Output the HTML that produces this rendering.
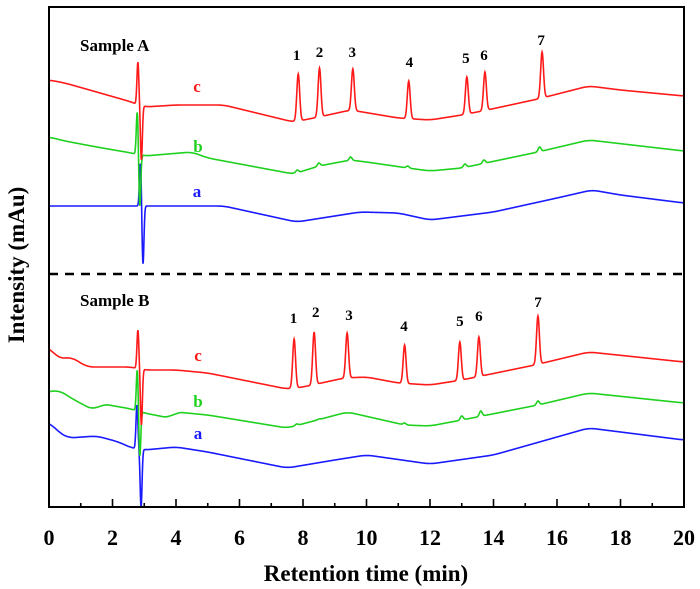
<!DOCTYPE html>
<html><head><meta charset="utf-8">
<style>
html,body{margin:0;padding:0;background:#fff;}
svg{display:block;font-family:"Liberation Serif",serif;}
</style></head>
<body>
<svg id="chart" width="700" height="589" viewBox="0 0 700 589">
<g id="traces"></g>
<line x1="49" y1="274" x2="684" y2="274" stroke="#000" stroke-width="2.5" stroke-dasharray="9,7"/>
<rect x="49" y="7" width="635" height="500" fill="none" stroke="#000" stroke-width="2"/>
<g id="xticks"></g>
<text x="366" y="581" text-anchor="middle" font-size="23" font-weight="bold">Retention time (min)</text>
<text transform="translate(24,265) rotate(-90)" text-anchor="middle" font-size="23" font-weight="bold">Intensity (mAu)</text>
<text x="80" y="51" font-size="17" font-weight="bold">Sample A</text>
<text x="80" y="306" font-size="17" font-weight="bold">Sample B</text>
<g id="labels"></g>
</svg>
<script>
// x-axis ticks
const xTickLabels = [0,2,4,6,8,10,12,14,16,18,20];
// Sample A traces (intensity units; baseline knots)
const aRedT = [0,0.5,1.5,2.6,3.0,4.0,5.5,7.7,8.5,9.5,11.0,12.0,13.0,13.8,15.4,17.0,18.0,20.0];
const aRedV = [427,424,415,405,400,402,402,385,390,397,389,387,392,397,408,421,417,411];
const aRedPkT = [2.8,2.91,7.85,8.52,9.57,11.33,13.16,13.73,15.53];
const aRedPkV = [445,347,433,439,438,426,430,435,455];
const aGrnT = [0,0.5,1.5,2.6,3.0,4.5,5.0,7.7,8.5,9.5,10.0,11.3,12.0,13.0,15.4,17.0,20.0];
const aGrnV = [370,366,360,354,351,355,349,333,341,347,345,339,336,339,355,367,356];
const aGrnPkT = [2.78,2.86,7.82,8.5,9.5,11.3,13.1,13.7,15.45];
const aGrnPkV = [396,300,337,344,350,341,343,347,360];
const aBluT = [0,2.8,3.2,5.5,7.8,9.8,11.0,12.0,14.0,16.0,17.1,18.0,20.0];
const aBluV = [301,301,301,301,285,295,294,287,295,309,317,312,304];
const aBluPkT = [2.88,2.96];
const aBluPkV = [345,242];
// Sample B traces
const bRedT = [0,0.3,0.7,1.2,2.6,3.0,4.0,5.0,7.5,8.0,9.3,10.0,11.0,12.0,13.0,15.3,17.0,20.0];
const bRedV = [160,148,150,140,140,137,137,134,118,120,129,130,124,122,127,142,155,145];
const bRedPkT = [2.8,2.91,7.72,8.35,9.39,11.2,12.94,13.54,15.4];
const bRedPkV = [177,82,168,175,174,162,165,170,191];
const bGrnT = [0,0.3,0.8,1.4,1.7,2.6,3.0,3.8,4.0,5.0,7.5,9.4,11.2,12.0,13.0,15.4,17.0,20.0];
const bGrnV = [115,117,107,97,103,98,94,89,95,92,79,95,82,81,87,102,114,104];
const bGrnPkT = [2.78,2.86,7.8,8.5,11.2,13.0,13.6,15.4];
const bGrnPkV = [138,50,83,88,84,91,96,106];
const bBluT = [0,0.3,0.6,1.5,2.2,2.6,3.0,4.0,5.0,7.5,9.0,10.0,12.0,14.0,17.0,20.0];
const bBluV = [85,75,69,71,65,59,57,60,55,39,47,52,43,52,79,67];
const bBluPkT = [2.77,2.9];
const bBluPkV = [102,0];
// label data
const peakNums = ["1","2","3","4","5","6","7"];
const aLabelT = [7.8,8.52,9.55,11.35,13.13,13.7,15.5];
const aLabelV = [447,450,450,440,444,447,462];
const bLabelT = [7.7,8.4,9.45,11.18,12.94,13.54,15.4];
const bLabelV = [184,190,187,176,181,186,200];

const X0=49, X1=684;
function xs(t){return X0+(t/20)*(X1-X0);}
function ys(v){return 507-v;}
const NS='http://www.w3.org/2000/svg';

function interp(T,V,t){
  if(t<=T[0]) return V[0];
  for(let i=1;i<T.length;i++){
    if(t<=T[i]){
      const u=(t-T[i-1])/(T[i]-T[i-1]);
      return V[i-1]+(V[i]-V[i-1])*u;
    }
  }
  return V[V.length-1];
}
function smoothBase(T,V,t){
  // light moving average of linear interpolation
  let s=0,n=0;
  for(let k=-4;k<=4;k++){s+=interp(T,V,t+k*0.05);n++;}
  return s/n;
}
function trace(T,V,PT,PV,color,name){
  const hs=PT.map((p,i)=>PV[i]-smoothBase(T,V,p));
  let d='';
  for(let k=0;k<=2000;k++){
    const t=k*0.01;
    let v=smoothBase(T,V,t);
    PT.forEach((p,i)=>{const sg=(p<3.2)?0.03:0.045;v+=hs[i]*Math.exp(-0.5*((t-p)/sg)**2);});
    d+=(k?'L':'M')+xs(t).toFixed(2)+','+ys(v).toFixed(2);
  }
  const path=document.createElementNS(NS,'path');
  path.setAttribute('d',d);path.setAttribute('fill','none');
  path.setAttribute('stroke',color);path.setAttribute('stroke-width','1.6');
  
  
  document.getElementById('traces').appendChild(path);
}
trace(aBluT,aBluV,aBluPkT,aBluPkV,'#1a1aff','sample-a-trace-a');
trace(aGrnT,aGrnV,aGrnPkT,aGrnPkV,'#1fd11f','sample-a-trace-b');
trace(aRedT,aRedV,aRedPkT,aRedPkV,'#ff1a1a','sample-a-trace-c');
trace(bBluT,bBluV,bBluPkT,bBluPkV,'#1a1aff','sample-b-trace-a');
trace(bGrnT,bGrnV,bGrnPkT,bGrnPkV,'#1fd11f','sample-b-trace-b');
trace(bRedT,bRedV,bRedPkT,bRedPkV,'#ff1a1a','sample-b-trace-c');

const xg=document.getElementById('xticks');
for(let m=0;m<=20;m++){
  const l=document.createElementNS(NS,'line');
  const major=m%2===0;
  l.setAttribute('x1',xs(m));l.setAttribute('x2',xs(m));
  l.setAttribute('y1',507);l.setAttribute('y2',major?499:503);
  l.setAttribute('stroke','#000');l.setAttribute('stroke-width','1.6');
  
  
  xg.appendChild(l);
}
xTickLabels.forEach(v=>{
  const t=document.createElementNS(NS,'text');
  t.setAttribute('x',xs(v));t.setAttribute('y',545);
  t.setAttribute('text-anchor','middle');t.setAttribute('font-size','22');t.setAttribute('font-weight','bold');
  t.textContent=v;
  
  
  xg.appendChild(t);
});
const lg=document.getElementById('labels');
function lab(txt,x,y,col,size,name){
  const t=document.createElementNS(NS,'text');
  t.setAttribute('x',x);t.setAttribute('y',y);t.setAttribute('text-anchor','middle');
  t.setAttribute('font-size',size);t.setAttribute('font-weight','bold');t.setAttribute('fill',col);
  t.textContent=txt;
  
  
  lg.appendChild(t);
}
peakNums.forEach((n,i)=>{
  lab(n,xs(aLabelT[i]),ys(aLabelV[i]),'#000',15,'peak-label-a');
  lab(n,xs(bLabelT[i]),ys(bLabelV[i]),'#000',15,'peak-label-b');
});
lab('c',197,92,'#ff1a1a',17,'curve-label-a-c');
lab('b',198,152,'#1fd11f',17,'curve-label-a-b');
lab('a',197,197,'#1a1aff',17,'curve-label-a-a');
lab('c',198,361,'#ff1a1a',17,'curve-label-b-c');
lab('b',198,407,'#1fd11f',17,'curve-label-b-b');
lab('a',198,439,'#1a1aff',17,'curve-label-b-a');
</script>
</body></html>
